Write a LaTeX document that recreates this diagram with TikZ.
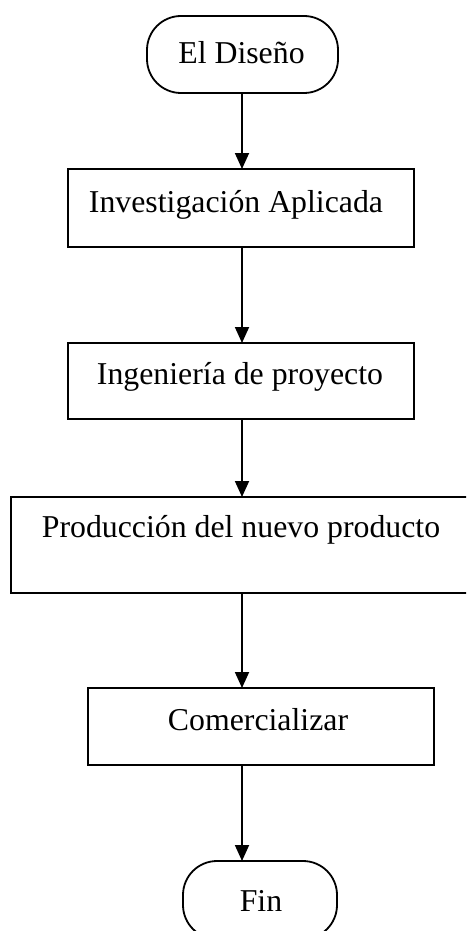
\documentclass[tikz,border=0pt]{standalone}
\usepackage{fontspec}
\setmainfont{Liberation Serif}
\usetikzlibrary{arrows.meta}
\tikzset{
  boxnode/.style={draw, line width=1.8pt, inner sep=0pt, outer sep=0pt},
  termnode/.style={boxnode, rounded corners=34pt},
  txt/.style={anchor=base, inner sep=0pt, font=\fontsize{31.8pt}{36pt}\selectfont},
  flow/.style={line width=1.8pt, -{Triangle[width=14pt,length=16pt]}}
}
\begin{document}
\begin{tikzpicture}[x=1pt,y=-1pt]
\useasboundingbox (0,0) rectangle (466,931);
\clip (0,0) rectangle (466,931);
\fill[white] (0,0) rectangle (466,931);
\coordinate (col) at (242,0);
\node[termnode, minimum width=191pt, minimum height=77pt] (b1) at (242.5,54.5) {};
\node[txt] (t1) at (241.5,64) {El Diseño};
\node[boxnode, minimum width=346pt, minimum height=78pt] (b2) at (241,208) {};
\node[txt] (t2) at (236,212) {Investigación Aplicada};
\node[boxnode, minimum width=346pt, minimum height=76pt] (b3) at (241,381) {};
\node[txt] (t3) at (240,384) {Ingeniería de proyecto};
\node[boxnode, minimum width=461pt, minimum height=96pt] (b4) at (241.5,545) {};
\node[txt] (t4) at (241,537) {Producción del nuevo producto};
\node[boxnode, minimum width=346pt, minimum height=77pt] (b5) at (261,726.5) {};
\node[txt] (t5) at (258,730) {Comercializar};
\node[termnode, minimum width=154pt, minimum height=78pt] (b6) at (260,900) {};
\node[txt] (t6) at (261,911) {Fin};
\draw[flow] (b1.south -| col) -- (b2.north -| col);
\draw[flow] (b2.south -| col) -- (b3.north -| col);
\draw[flow] (b3.south -| col) -- (b4.north -| col);
\draw[flow] (b4.south -| col) -- (b5.north -| col);
\draw[flow] (b5.south -| col) -- (b6.north -| col);
\end{tikzpicture}
\end{document}
